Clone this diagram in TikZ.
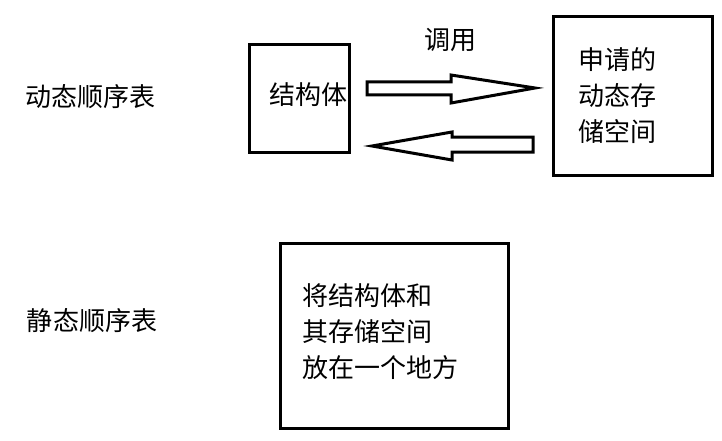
\documentclass[tikz,border=0pt]{standalone}
\usepackage{fontspec}
\setmainfont{Noto Sans CJK SC}
\begin{document}
\begin{tikzpicture}[x=1pt,y=-1pt,
  box/.style={draw,line width=3pt},
  txt/.style={font=\fontsize{26}{36}\selectfont,inner sep=0pt},
  arr/.style={draw,line width=3pt,line join=miter}]
\useasboundingbox (0,0) rectangle (722,441);
\node[txt] (t1) at (90,97) {动态顺序表};
\node[txt] (t2) at (92,321) {静态顺序表};
\node[box,minimum width=100pt,minimum height=107pt,inner sep=0pt] (s) at (299,98.5) {};
\node[txt] at (308,95) {结构体};
\node[box,minimum width=159pt,minimum height=158pt,inner sep=0pt] (m) at (632.5,96) {};
\node[txt,align=left,anchor=north west] at (578,47) {申请的\\动态存\\储空间};
\node[box,minimum width=228pt,minimum height=185pt,inner sep=0pt] (b) at (394,335.5) {};
\node[txt,align=left,anchor=north west] at (302,283) {将结构体和\\其存储空间\\放在一个地方};
\node[txt] (call) at (450,40) {调用};
\draw[arr] (367,82) -- (451,82) -- (451,75) -- (535,88) -- (451,103) -- (451,95) -- (367,95) -- cycle;
\draw[arr] (533,137) -- (452,137) -- (452,132) -- (372,146) -- (452,160) -- (452,152) -- (533,152) -- cycle;
\end{tikzpicture}
\end{document}
